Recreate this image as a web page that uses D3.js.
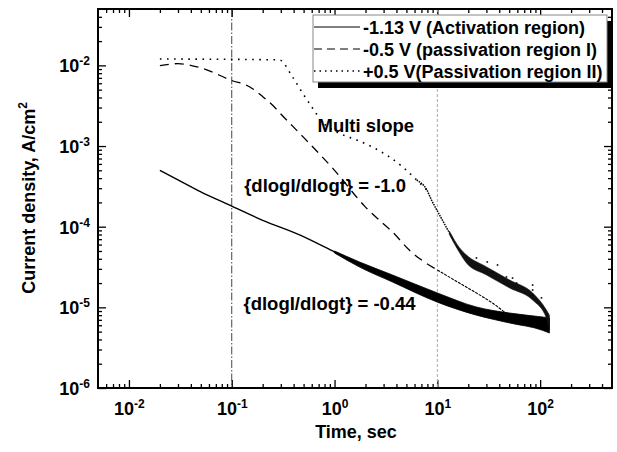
<!DOCTYPE html>
<html>
<head>
<meta charset="utf-8">
<script src="https://cdn.jsdelivr.net/npm/d3@7"></script>
<style>
  body { margin: 0; background: #fff; }
  text { font-family: Arial, "Liberation Sans", sans-serif; font-weight: bold; fill: #000; }
</style>
</head>
<body>
<div id="CHART"></div>
<script>
// ------------------------- data ------------------------//

// -1.13 V (Activation region)
var timeAct = [0.02, 0.03, 0.05, 0.1, 0.2, 0.457, 1, 1.75, 3.66, 10, 24, 50.5, 105, 123];
var currAct = [5.0e-4, 3.8e-4, 2.7e-4, 1.8e-4, 1.2e-4, 7.9e-5, 4.85e-5, 3.4e-5, 2.28e-5, 1.32e-5, 9.0e-6, 7.4e-6, 6.3e-6, 5.95e-6];
// noisy spread of the activation curve at long times
var bandActTime = [1, 1.75, 3.66, 10, 24, 50.5, 105, 123];
var bandActHigh = [5.0e-5, 3.65e-5, 2.52e-5, 1.51e-5, 1.01e-5, 8.5e-6, 7.6e-6, 7.4e-6];
var bandActLow = [4.72e-5, 3.16e-5, 2.06e-5, 1.16e-5, 8.0e-6, 6.4e-6, 5.2e-6, 4.8e-6];

// -0.5 V (passivation region I)
var timePass1 = [0.02, 0.03, 0.05, 0.1, 0.15, 0.2, 0.25, 0.3, 0.5, 1, 2, 3, 3.66, 5.36, 10, 16.4, 34.4, 50.5, 84.5, 123];
var currPass1 = [9.9e-3, 1.05e-2, 9.3e-3, 6.5e-3, 5.4e-3, 4.1e-3, 3.2e-3, 2.5e-3, 1.28e-3, 5.0e-4, 1.75e-4, 1.08e-4, 8.6e-5, 5.1e-5, 2.9e-5, 2.0e-5, 1.13e-5, 8.0e-6, 6.6e-6, 6.1e-6];

// +0.5 V (Passivation region II)
var timePass2 = [0.02, 0.29, 0.39, 0.48, 0.61, 0.76, 1.05, 1.64, 2.34, 3.43, 4.6, 6.3, 7.9, 8.77, 10.5, 13.1, 16.4, 19.2, 30.1, 50.5, 84.5, 115, 123];
var currPass2 = [1.2e-2, 1.17e-2, 7.2e-3, 4.7e-3, 2.96e-3, 1.99e-3, 1.49e-3, 1.19e-3, 9.7e-4, 7.3e-4, 5.5e-4, 3.79e-4, 2.85e-4, 2.14e-4, 1.40e-4, 8.4e-5, 5.1e-5, 4.0e-5, 2.83e-5, 1.95e-5, 1.36e-5, 8.3e-6, 6.5e-6];
var bandPass2Time = [13.1, 16.4, 19.2, 30.1, 50.5, 84.5, 115, 123];
var bandPass2High = [8.8e-5, 5.5e-5, 4.46e-5, 3.17e-5, 2.18e-5, 1.51e-5, 9.3e-6, 8.0e-6];
var bandPass2Low = [8.0e-5, 4.8e-5, 3.55e-5, 2.52e-5, 1.74e-5, 1.23e-5, 7.4e-6, 5.2e-6];
// scattered points above the +0.5 V tail
var spikeTime = [24.0, 30.6, 34.4, 38.5, 47.0, 53.9, 59.0, 67.6, 84.5, 84.5, 84.5, 103];
var spikeCurr = [4.09e-5, 3.65e-5, 2.74e-5, 3.35e-5, 2.38e-5, 2.31e-5, 2.0e-5, 1.74e-5, 1.89e-5, 1.64e-5, 1.42e-5, 1.31e-5];

var xMajor = [0.01, 0.1, 1, 10, 100];
var yMajor = [1e-6, 1e-5, 1e-4, 1e-3, 1e-2];
var refLines = [0.1, 10];

var legendLabels = ["-1.13 V (Activation region)", "-0.5 V (passivation region I)", "+0.5 V(Passivation region II)"];

var notes = [
  { text: "Multi slope", t: 0.683, i: 1.49e-3 },
  { text: "{dlogI/dlogt} = -1.0", t: 0.132, i: 2.69e-4 },
  { text: "{dlogI/dlogt} = -0.44", t: 0.13, i: 9.27e-6 }
];

// ------------------------- svg init ------------------------//

var W = 617, H = 452;
var margin = { top: 9, right: 5, bottom: 64, left: 98 },
  width = W - margin.left - margin.right,
  height = H - margin.top - margin.bottom;

var svg = d3.select("#CHART").append("svg")
  .attr("width", W)
  .attr("height", H);

var g = svg.append("g")
  .attr("transform", "translate(" + margin.left + "," + margin.top + ")");

var x = d3.scaleLog().domain([0.005, 500]).range([0, width]);
var y = d3.scaleLog().domain([1e-6, 0.05]).range([height, 0]);

function minorTicks(domain) {
  var out = [];
  for (var e = -7; e <= 3; e++) {
    for (var m = 2; m <= 9; m++) {
      var v = m * Math.pow(10, e);
      if (v > domain[0] && v < domain[1]) out.push(v);
    }
  }
  return out;
}
var xMinor = minorTicks(x.domain());
var yMinor = minorTicks(y.domain());

// ------------------------- axes ------------------------//

function addAxis(axis, tr) {
  var a = g.append("g").attr("transform", tr).call(axis);
  a.select(".domain").remove();
  a.selectAll("text").remove();
  a.selectAll("line").attr("stroke", "#000").attr("stroke-width", 1.3);
  return a;
}

var bottomAxis = addAxis(d3.axisBottom(x).tickValues(xMajor).tickSize(-8), "translate(0," + height + ")");
addAxis(d3.axisBottom(x).tickValues(xMinor).tickSize(-4), "translate(0," + height + ")");
addAxis(d3.axisTop(x).tickValues(xMajor).tickSize(-8), "translate(0,0)");
addAxis(d3.axisTop(x).tickValues(xMinor).tickSize(-4), "translate(0,0)");
var leftAxis = addAxis(d3.axisLeft(y).tickValues(yMajor).tickSize(-8), "translate(0,0)");
addAxis(d3.axisLeft(y).tickValues(yMinor).tickSize(-4), "translate(0,0)");
addAxis(d3.axisRight(y).tickValues(yMajor).tickSize(-8), "translate(" + width + ",0)");
addAxis(d3.axisRight(y).tickValues(yMinor).tickSize(-4), "translate(" + width + ",0)");

function powLabel(sel) {
  sel.append("tspan").style("font-size", "18px").text("10");
  sel.append("tspan").style("font-size", "12px").attr("dy", -7)
    .text(function (d) { return Math.round(Math.log10(d)); });
}

bottomAxis.selectAll(".tick").append("text")
  .attr("y", 27)
  .attr("text-anchor", "middle")
  .call(powLabel);

leftAxis.selectAll(".tick").append("text")
  .attr("x", -8)
  .attr("y", 6.5)
  .attr("text-anchor", "end")
  .call(powLabel);

// axis titles
g.append("text")
  .attr("x", 258)
  .attr("y", height + 50)
  .attr("text-anchor", "middle")
  .style("font-size", "18px")
  .text("Time, sec");

var yTitle = g.append("text")
  .attr("transform", "translate(-63," + 189 + ") rotate(-90)")
  .attr("text-anchor", "middle")
  .style("font-size", "18px");
yTitle.append("tspan").text("Current density, A/cm");
yTitle.append("tspan").style("font-size", "12px").attr("dy", -8).text("2");

// ------------------------- reference lines ------------------------//

g.selectAll(".ref")
  .data(refLines)
  .enter().append("line")
  .attr("class", "ref")
  .attr("x1", function (d) { return x(d); })
  .attr("x2", function (d) { return x(d); })
  .attr("y1", 0)
  .attr("y2", height)
  .attr("stroke", function (d, i) { return i == 0 ? "#444" : "#aaa"; })
  .attr("stroke-width", 1)
  .attr("stroke-dasharray", function (d, i) { return i == 0 ? "8,2,1.5,2" : "3,2"; });

// ------------------------- curves ------------------------//

function zip(ts, vs) { return ts.map(function (t, i) { return { t: t, i: vs[i] }; }); }
function zip3(ts, lo, hi) { return ts.map(function (t, i) { return { t: t, lo: lo[i], hi: hi[i] }; }); }

var line = d3.line()
  .x(function (d) { return x(d.t); })
  .y(function (d) { return y(d.i); })
  .curve(d3.curveMonotoneX);

var band = d3.area()
  .x(function (d) { return x(d.t); })
  .y0(function (d) { return y(d.lo); })
  .y1(function (d) { return y(d.hi); })
  .curve(d3.curveMonotoneX);

var act = zip(timeAct, currAct);
var pass1 = zip(timePass1, currPass1);
var pass2 = zip(timePass2, currPass2);

// activation: solid
g.append("path").datum(act)
  .attr("d", line).attr("fill", "none").attr("stroke", "#000").attr("stroke-width", 1.4);
g.append("path").datum(zip3(bandActTime, bandActLow, bandActHigh))
  .attr("d", band).attr("fill", "#000").attr("stroke", "#000").attr("stroke-width", 0.8);

// passivation I: dashed, dense at long times
g.append("path").datum(pass1.filter(function (d) { return d.t <= 10; }))
  .attr("d", line).attr("fill", "none").attr("stroke", "#000").attr("stroke-width", 1.3)
  .attr("stroke-dasharray", "9,6");
g.append("path").datum(pass1.filter(function (d) { return d.t >= 10; }))
  .attr("d", line).attr("fill", "none").attr("stroke", "#000").attr("stroke-width", 1.1)
  .attr("stroke-dasharray", "3,1");

// passivation II: dotted, dense at long times
g.append("path").datum(pass2.filter(function (d) { return d.t <= 7.9; }))
  .attr("d", line).attr("fill", "none").attr("stroke", "#000").attr("stroke-width", 1.6)
  .attr("stroke-dasharray", "1.6,5.5");
g.append("path").datum(pass2.filter(function (d) { return d.t >= 6.3; }))
  .attr("d", line).attr("fill", "none").attr("stroke", "#000").attr("stroke-width", 1.5)
  .attr("stroke-dasharray", "1.5,1");
g.append("path").datum(zip3(bandPass2Time, bandPass2Low, bandPass2High))
  .attr("d", band).attr("fill", "#111").attr("stroke", "#111").attr("stroke-width", 0.6);
g.selectAll(".spike")
  .data(zip(spikeTime, spikeCurr))
  .enter().append("rect")
  .attr("class", "spike")
  .attr("x", function (d) { return x(d.t) - 0.8; })
  .attr("y", function (d) { return y(d.i) - 0.8; })
  .attr("width", 1.6)
  .attr("height", 1.6)
  .attr("fill", "#000");

// ------------------------- annotations ------------------------//

g.selectAll(".note")
  .data(notes)
  .enter().append("text")
  .attr("class", "note")
  .attr("x", function (d) { return x(d.t); })
  .attr("y", function (d) { return y(d.i); })
  .style("font-size", "18.5px")
  .text(function (d) { return d.text; });

// ------------------------- frame ------------------------//

g.append("rect")
  .attr("width", width)
  .attr("height", height)
  .attr("fill", "none")
  .attr("stroke", "#000")
  .attr("stroke-width", 2);

// ------------------------- legend ------------------------//

var lg = svg.append("g").attr("transform", "translate(313,15)");
lg.append("rect").attr("x", 5).attr("y", 6).attr("width", 294).attr("height", 67).attr("fill", "#000");
lg.append("rect").attr("width", 294).attr("height", 67)
  .attr("fill", "#fff").attr("stroke", "#888").attr("stroke-width", 1);

var dashes = [null, "8,5", "1.5,4"];
var rows = lg.selectAll(".row")
  .data(legendLabels)
  .enter().append("g")
  .attr("class", "row")
  .attr("transform", function (d, i) { return "translate(0," + (12 + i * 22) + ")"; });

rows.append("line")
  .attr("x1", 1).attr("x2", 47)
  .attr("stroke", "#000")
  .attr("stroke-width", function (d, i) { return i == 2 ? 1.4 : 1.2; })
  .attr("stroke-dasharray", function (d, i) { return dashes[i]; });

rows.append("text")
  .attr("x", 50)
  .attr("y", 6.5)
  .style("font-size", "18px")
  .text(function (d) { return d; });
</script>
</body>
</html>
